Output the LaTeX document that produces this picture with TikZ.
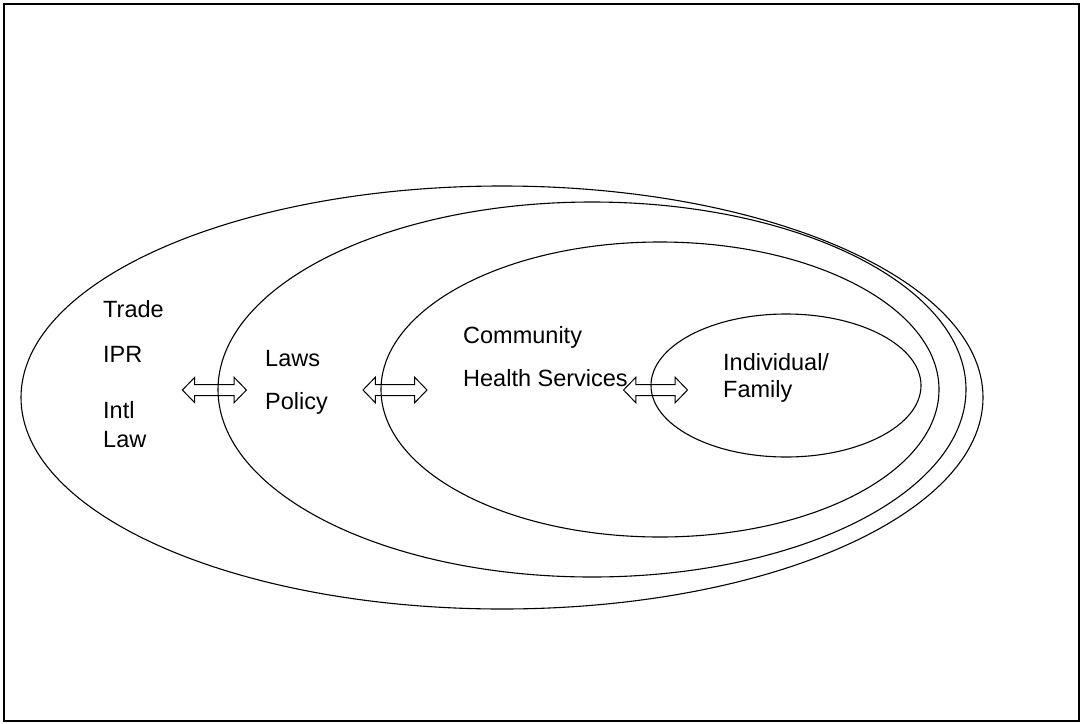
\documentclass[tikz,border=0pt]{standalone}
\usepackage{fontspec}
\setmainfont{Liberation Sans}
\usetikzlibrary{shapes.geometric}
\tikzset{
  ring/.style={draw, ellipse, line width=1.1pt, inner sep=0pt},
  lbl/.style={anchor=base west, inner sep=0pt, font=\fontsize{23.5}{28}\selectfont},
  barrow/.pic={\draw[line width=1pt, line join=miter]
     (-32,0) -- (-19.7,-12.7) -- (-19.7,-5.5) -- (19.7,-5.5) -- (19.7,-12.7) -- (32,0)
     -- (19.7,12.7) -- (19.7,5.5) -- (-19.7,5.5) -- (-19.7,12.7) -- cycle;}
}
\begin{document}
\begin{tikzpicture}[x=1pt,y=-1pt]
\useasboundingbox (0,0) rectangle (1081,723);
\draw[line width=2pt] (4.3,3.7) rectangle (1079.3,720.5);
\node[ring, minimum width=962pt, minimum height=423pt] (outer) at (502,397.5) {};
\node[ring, minimum width=748pt, minimum height=375pt] (second) at (592,389.5) {};
\node[ring, minimum width=558pt, minimum height=295pt] (third) at (660,389.5) {};
\node[ring, minimum width=270pt, minimum height=143pt] (inner) at (786,385.5) {};
\pic (a1) at (214.4,390) {barrow};
\pic (a2) at (395,390) {barrow};
\pic (a3) at (655.5,390) {barrow};
\node[lbl] (trade) at (103,317) {Trade};
\node[lbl] (ipr) at (103,362) {IPR};
\node[lbl] (intl) at (103,418) {Intl};
\node[lbl] (law) at (103,447) {Law};
\node[lbl] (laws) at (265,366) {Laws};
\node[lbl] (policy) at (265,409) {Policy};
\node[lbl] (comm) at (463,343) {Community};
\node[lbl] (health) at (463,386) {Health Services};
\node[lbl] (indiv) at (723,370) {Individual/};
\node[lbl] (family) at (723,397) {Family};
\end{tikzpicture}
\end{document}
